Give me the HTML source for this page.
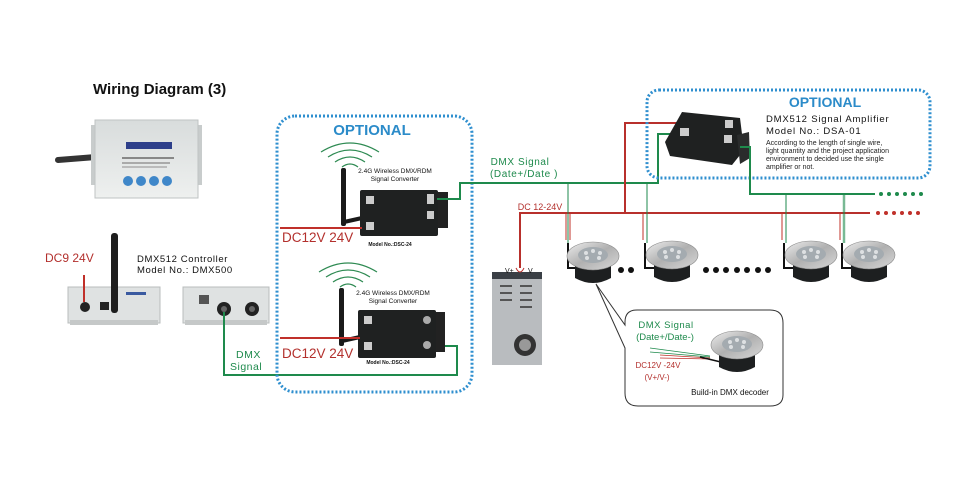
<!DOCTYPE html>
<html><head><meta charset="utf-8"><style>
html,body{margin:0;padding:0;background:#fff;}
svg{display:block;font-family:"Liberation Sans",sans-serif;}
</style></head><body>
<svg width="977" height="477" viewBox="0 0 977 477" xmlns="http://www.w3.org/2000/svg">
<defs>
<linearGradient id="silv" x1="0" y1="0" x2="0" y2="1"><stop offset="0" stop-color="#d8dcdc"/><stop offset="1" stop-color="#eef0ef"/></linearGradient>
<linearGradient id="lamp" x1="0" y1="0" x2="1" y2="1"><stop offset="0" stop-color="#eeeeee"/><stop offset="0.5" stop-color="#b0b0b0"/><stop offset="1" stop-color="#d8d8d8"/></linearGradient>
<g id="lmp">
<path d="M-18,4 L-18,22 Q0,32 18,22 L18,4 Z" fill="#1d1f20"/>
<ellipse cx="0" cy="0" rx="26" ry="14" fill="url(#lamp)" stroke="#888" stroke-width="0.6"/>
<ellipse cx="0" cy="-1" rx="15" ry="8" fill="#a4abb0"/>
<circle cx="-7" cy="-3" r="2" fill="#dde0e2"/><circle cx="0" cy="-5" r="2" fill="#dde0e2"/><circle cx="7" cy="-3" r="2" fill="#dde0e2"/>
<circle cx="-6" cy="2" r="2" fill="#dde0e2"/><circle cx="6" cy="2" r="2" fill="#dde0e2"/>
</g>
<g id="wifi" fill="none" stroke="#2e8a52" stroke-width="1.2">
<path d="M-8,-3 Q0,-9 8,-3"/><path d="M-15,-8 Q0,-18 15,-8"/><path d="M-22,-13 Q0,-27 22,-13"/><path d="M-29,-18 Q0,-36 29,-18"/>
</g>
</defs>

<text x="93" y="94" font-size="15" font-weight="bold" fill="#111">Wiring Diagram (3)</text>

<!-- top controller -->
<path d="M58,160 L96,157" stroke="#333" stroke-width="6" stroke-linecap="round"/>
<rect x="91" y="125" width="6" height="60" fill="#c8cccc"/><rect x="196" y="125" width="6" height="60" fill="#c8cccc"/>
<rect x="95" y="120" width="103" height="78" fill="url(#silv)" stroke="#bfc3c3"/>
<rect x="126" y="142" width="46" height="7" fill="#2d3f8a"/>
<rect x="122" y="157" width="52" height="2" fill="#888"/><rect x="122" y="162" width="48" height="2" fill="#aaa"/><rect x="122" y="166" width="45" height="2" fill="#bbb"/>
<circle cx="128" cy="181" r="5" fill="#3f87c9"/><circle cx="141" cy="181" r="5" fill="#3f87c9"/><circle cx="154" cy="181" r="5" fill="#3f87c9"/><circle cx="167" cy="181" r="5" fill="#3f87c9"/>

<!-- bottom left boxes -->
<rect x="68" y="287" width="92" height="36" fill="#dfe2e2" stroke="#b8bcbc"/>
<rect x="70" y="320" width="88" height="5" fill="#c5c8c8"/>
<circle cx="85" cy="307" r="5" fill="#222"/>
<rect x="100" y="302" width="9" height="8" fill="#222"/>
<rect x="126" y="292" width="20" height="3" fill="#3a5aa0"/>
<line x1="84" y1="275" x2="84" y2="302" stroke="#c0302a" stroke-width="2"/>
<rect x="111" y="233" width="7" height="80" rx="3" fill="#1e1e1e"/>
<text x="45" y="262" font-size="12" fill="#b3302d">DC9  24V</text>
<text x="137" y="262" font-size="9.5" fill="#111" letter-spacing="0.6">DMX512 Controller</text>
<text x="137" y="273" font-size="9.5" fill="#111" letter-spacing="0.6">Model No.: DMX500</text>

<rect x="183" y="287" width="86" height="36" fill="#dfe2e2" stroke="#b8bcbc"/>
<rect x="185" y="320" width="82" height="5" fill="#c5c8c8"/>
<rect x="199" y="295" width="10" height="9" fill="#555"/>
<circle cx="224" cy="309" r="7" fill="#222"/><circle cx="252" cy="309" r="7" fill="#222"/>
<circle cx="224" cy="309" r="3" fill="#666"/><circle cx="252" cy="309" r="3" fill="#666"/>

<!-- green DMX -->
<polyline points="224,312 224,375 457,375 457,346 437,346" fill="none" stroke="#1e8a4c" stroke-width="2"/>
<text x="236" y="358" font-size="10.5" fill="#1e8a4c" letter-spacing="0.5">DMX</text>
<text x="230" y="370" font-size="10.5" fill="#1e8a4c" letter-spacing="0.5">Signal</text>

<!-- optional box 1 -->
<rect x="277" y="116" width="195" height="276" rx="18" fill="none" stroke="#2f8fcf" stroke-width="3" stroke-dasharray="2 2"/>
<text x="372" y="135" font-size="15" font-weight="bold" fill="#2b8bc9" text-anchor="middle">OPTIONAL</text>

<!-- converter 1 -->
<use href="#wifi" x="350" y="170"/>
<rect x="341" y="168" width="5" height="58" rx="2" fill="#1a1a1a"/>
<line x1="344" y1="222" x2="362" y2="218" stroke="#1a1a1a" stroke-width="4"/>
<rect x="437" y="192" width="11" height="36" fill="#222"/>
<rect x="360" y="190" width="78" height="46" rx="2" fill="#1f2121"/>
<rect x="366" y="196" width="8" height="8" fill="#ccc"/><rect x="366" y="222" width="8" height="8" fill="#ccc"/>
<rect x="427" y="194" width="7" height="10" fill="#ccc"/><rect x="427" y="211" width="7" height="8" fill="#ccc"/>
<text x="395" y="173" font-size="6.5" fill="#111" text-anchor="middle">2.4G Wireless DMX/RDM</text>
<text x="395" y="181" font-size="6.5" fill="#111" text-anchor="middle">Signal Converter</text>
<text x="390" y="246" font-size="5" font-weight="bold" fill="#111" text-anchor="middle">Model No.:DSC-24</text>
<line x1="280" y1="228" x2="362" y2="228" stroke="#c0302a" stroke-width="2"/>
<text x="282" y="242" font-size="13.5" fill="#b3302d">DC12V  24V</text>

<!-- converter 2 -->
<use href="#wifi" x="348" y="290"/>
<rect x="339" y="288" width="5" height="58" rx="2" fill="#1a1a1a"/>
<line x1="342" y1="341" x2="360" y2="337" stroke="#1a1a1a" stroke-width="4"/>
<rect x="434" y="312" width="11" height="40" fill="#222"/>
<rect x="358" y="310" width="78" height="48" rx="2" fill="#1f2121"/>
<rect x="364" y="316" width="8" height="8" fill="#ccc"/><rect x="364" y="342" width="8" height="8" fill="#ccc"/>
<circle cx="427" cy="320" r="4" fill="#aaa"/><circle cx="427" cy="345" r="4" fill="#aaa"/>
<text x="393" y="295" font-size="6.5" fill="#111" text-anchor="middle">2.4G Wireless DMX/RDM</text>
<text x="393" y="303" font-size="6.5" fill="#111" text-anchor="middle">Signal Converter</text>
<text x="388" y="364" font-size="5" font-weight="bold" fill="#111" text-anchor="middle">Model No.:DSC-24</text>
<line x1="280" y1="338" x2="360" y2="338" stroke="#c0302a" stroke-width="2"/>
<text x="282" y="358" font-size="13.5" fill="#b3302d">DC12V  24V</text>

<!-- DMX bus from conv1 -->
<polyline points="437,199 460,199 460,183 658,183 658,134 682,134" fill="none" stroke="#1e8a4c" stroke-width="2"/>
<text x="520" y="165" font-size="10" fill="#1e8a4c" text-anchor="middle" letter-spacing="0.6">DMX Signal</text>
<text x="524" y="177" font-size="10" fill="#1e8a4c" text-anchor="middle" letter-spacing="0.6">(Date+/Date )</text>

<!-- red bus -->
<polyline points="520,268 520,213 870,213" fill="none" stroke="#b8302c" stroke-width="2"/>
<polyline points="625,213 625,123 683,123" fill="none" stroke="#b8302c" stroke-width="2"/>
<text x="540" y="210" font-size="9" fill="#b3302d" text-anchor="middle">DC 12-24V</text>
<g fill="#c0302a"><circle cx="878" cy="213" r="2"/><circle cx="886" cy="213" r="2"/><circle cx="894" cy="213" r="2"/><circle cx="902" cy="213" r="2"/><circle cx="910" cy="213" r="2"/><circle cx="918" cy="213" r="2"/></g>

<!-- PSU -->
<rect x="492" y="277" width="50" height="88" fill="#b9bcbf"/>
<rect x="492" y="272" width="50" height="7" fill="#3a3f45"/>
<g fill="#555"><rect x="500" y="285" width="12" height="2"/><rect x="520" y="285" width="12" height="2"/><rect x="500" y="292" width="12" height="2"/><rect x="520" y="292" width="12" height="2"/><rect x="500" y="299" width="12" height="2"/><rect x="520" y="299" width="12" height="2"/><rect x="520" y="306" width="12" height="2"/></g>
<circle cx="525" cy="345" r="11" fill="#333"/><circle cx="525" cy="345" r="6" fill="#999"/>
<text x="505" y="273" font-size="7" fill="#111">V+</text><text x="528" y="273" font-size="7" fill="#111">V</text>
<path d="M516,268 Q520,276 524,268" fill="none" stroke="#b8302c" stroke-width="1"/>

<!-- optional box 2 -->
<rect x="647" y="90" width="283" height="88" rx="12" fill="none" stroke="#2f8fcf" stroke-width="3" stroke-dasharray="2 2"/>
<text x="825" y="107" font-size="14" font-weight="bold" fill="#2b8bc9" text-anchor="middle">OPTIONAL</text>
<text x="766" y="122" font-size="9.5" fill="#111" letter-spacing="0.8">DMX512 Signal Amplifier</text>
<text x="766" y="134" font-size="9.5" fill="#111" letter-spacing="0.8">Model No.: DSA-01</text>
<text x="766" y="145" font-size="7" fill="#222">According to the length of single wire,</text>
<text x="766" y="153" font-size="7" fill="#222">light quantity and the project application</text>
<text x="766" y="161" font-size="7" fill="#222">environment to decided use the single</text>
<text x="766" y="169" font-size="7" fill="#222">amplifier or not.</text>
<polygon points="682,112 740,118 744,150 732,165 670,156 665,142" fill="#1f2121"/>
<polygon points="737,135 749,132 750,158 740,164" fill="#2a2c2c"/>
<rect x="680" y="128" width="9" height="8" fill="#ccc"/><rect x="725" y="120" width="8" height="8" fill="#ccc"/><rect x="724" y="135" width="8" height="8" fill="#ccc"/>

<!-- amp output green -->
<polyline points="740,147 750,147 750,194 875,194" fill="none" stroke="#1e8a4c" stroke-width="2"/>
<g fill="#1e8a4c"><circle cx="881" cy="194" r="2"/><circle cx="889" cy="194" r="2"/><circle cx="897" cy="194" r="2"/><circle cx="905" cy="194" r="2"/><circle cx="913" cy="194" r="2"/><circle cx="921" cy="194" r="2"/></g>

<!-- drops & lamps -->
<g stroke-width="1" fill="none">
<path d="M566,213 L566,240 M570,213 L570,240" stroke="#c0302a"/><path d="M647,183 L647,243" stroke="#1e8a4c"/><path d="M643,213 L643,240" stroke="#c0302a"/>
<path d="M568,183 L568,243" stroke="#1e8a4c"/>
<path d="M782,213 L782,240 M786,213 L786,240" stroke="#c0302a"/><path d="M786,194 L786,243" stroke="#1e8a4c"/>
<path d="M840,213 L840,240" stroke="#c0302a"/><path d="M844,194 L844,243" stroke="#1e8a4c" stroke-width="2.5" opacity="0.6"/>
</g>
<g stroke="#111" stroke-width="2" fill="none">
<polyline points="568,243 568,268 580,268"/><polyline points="645,243 645,268 656,268"/>
<polyline points="784,243 784,268 795,268"/><polyline points="842,243 842,268 853,268"/>
</g>
<use href="#lmp" x="593" y="256"/><use href="#lmp" x="672" y="255"/><use href="#lmp" x="811" y="255"/><use href="#lmp" x="869" y="255"/>
<g fill="#111"><circle cx="621" cy="270" r="3"/><circle cx="631" cy="270" r="3"/>
<circle cx="706" cy="270" r="3"/><circle cx="716" cy="270" r="3"/><circle cx="726" cy="270" r="3"/><circle cx="737" cy="270" r="3"/><circle cx="747" cy="270" r="3"/><circle cx="758" cy="270" r="3"/><circle cx="768" cy="270" r="3"/></g>

<!-- callout -->
<path d="M637,310 L770,310 Q783,310 783,323 L783,395 Q783,406 770,406 L638,406 Q625,406 625,393 L625,348 L596,284 L625,325 L625,322 Q625,310 637,310 Z" fill="#fff" stroke="#333" stroke-width="1"/>
<text x="666" y="328" font-size="9.5" fill="#1e8a4c" text-anchor="middle" letter-spacing="0.5">DMX Signal</text>
<text x="665" y="340" font-size="9.5" fill="#1e8a4c" text-anchor="middle">(Date+/Date-)</text>
<path d="M650,348 L710,356 M650,352 L710,357" stroke="#1e8a4c" stroke-width="0.8"/>
<path d="M660,355 L710,358 M660,358 L710,359" stroke="#c0302a" stroke-width="0.8"/>
<path d="M700,357 L725,363" stroke="#111" stroke-width="1.5"/>
<use href="#lmp" x="737" y="345"/>
<text x="658" y="368" font-size="8" fill="#b3302d" text-anchor="middle">DC12V -24V</text>
<text x="657" y="380" font-size="8" fill="#b3302d" text-anchor="middle">(V+/V-)</text>
<text x="730" y="395" font-size="8" fill="#111" text-anchor="middle">Build-in DMX decoder</text>
</svg>
</body></html>
